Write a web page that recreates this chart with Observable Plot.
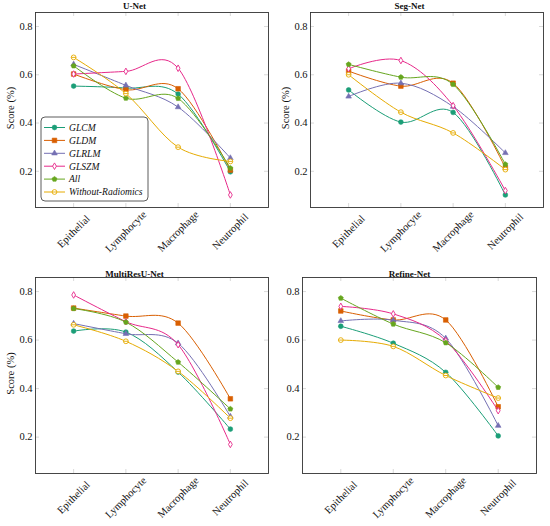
<!DOCTYPE html>
<html>
<head>
<meta charset="utf-8">
<script src="https://cdn.jsdelivr.net/npm/d3@7"></script>
<script src="https://cdn.jsdelivr.net/npm/@observablehq/plot@0.6"></script>
<style>
  body { margin: 0; background: #fff; }
  #wrap { position: relative; width: 550px; height: 526px; overflow: hidden; }
  #wrap > svg { position: absolute; }
</style>
</head>
<body>
<div id="wrap"></div>
<script>
// ---------- data ----------
const categories = ["Epithelial", "Lymphocyte", "Macrophage", "Neutrophil"];
const seriesNames = ["GLCM", "GLDM", "GLRLM", "GLSZM", "All", "Without-Radiomics"];
const seriesColors = ["#1b9e77", "#d95f02", "#7570b3", "#e7298a", "#66a61e", "#e6ab02"];
const yTicks = [0.2, 0.4, 0.6, 0.8];
const panelTitles = ["U-Net", "Seg-Net", "MultiResU-Net", "Refine-Net"];
const yAxisLabel = "Score (%)";

// rows follow seriesNames, columns follow categories
const uNetScores = [
  [0.553, 0.545, 0.520, 0.198],
  [0.603, 0.538, 0.542, 0.205],
  [0.643, 0.556, 0.466, 0.255],
  [0.603, 0.614, 0.627, 0.102],
  [0.637, 0.503, 0.502, 0.213],
  [0.672, 0.522, 0.300, 0.241]
];
const segNetScores = [
  [0.537, 0.404, 0.444, 0.102],
  [0.615, 0.553, 0.565, 0.215],
  [0.510, 0.565, 0.468, 0.276],
  [0.625, 0.659, 0.472, 0.120],
  [0.643, 0.590, 0.560, 0.229],
  [0.600, 0.445, 0.359, 0.207]
];
const multiResScores = [
  [0.637, 0.633, 0.468, 0.233],
  [0.732, 0.699, 0.670, 0.358],
  [0.668, 0.626, 0.587, 0.285],
  [0.786, 0.676, 0.581, 0.170],
  [0.730, 0.674, 0.509, 0.316],
  [0.663, 0.595, 0.471, 0.278]
];
const refineNetScores = [
  [0.657, 0.587, 0.467, 0.205],
  [0.720, 0.683, 0.683, 0.325],
  [0.679, 0.682, 0.607, 0.247],
  [0.739, 0.708, 0.598, 0.309],
  [0.773, 0.666, 0.589, 0.405],
  [0.600, 0.574, 0.454, 0.361]
];

// ---------- marker shapes ----------
const pentagon = {
  draw(ctx, size) {
    const R = Math.sqrt(size / (2.5 * Math.sin(2 * Math.PI / 5)));
    for (let k = 0; k < 5; k++) {
      const a = -Math.PI / 2 + k * 2 * Math.PI / 5;
      const px = R * Math.cos(a), py = R * Math.sin(a);
      if (k === 0) ctx.moveTo(px, py); else ctx.lineTo(px, py);
    }
    ctx.closePath();
  }
};
const circleBar = {
  draw(ctx, size) {
    const r = Math.sqrt(size / Math.PI);
    ctx.moveTo(r, 0);
    ctx.arc(0, 0, r, 0, 2 * Math.PI);
    ctx.moveTo(-r, 0);
    ctx.lineTo(r, 0);
  }
};
const markerStyles = [
  { symbol: d3.symbolCircle, open: false, r: 2.4 },
  { symbol: d3.symbolSquare, open: false, r: 2.6 },
  { symbol: d3.symbolTriangle, open: false, r: 2.1 },
  { symbol: d3.symbolDiamond, open: true, r: 2.0 },
  { symbol: pentagon, open: false, r: 2.3 },
  { symbol: circleBar, open: true, r: 2.4 }
];

const FONT = "'Liberation Serif', 'DejaVu Serif', serif";
const xDom = [-0.73, 3.73];
const yDom = [0.05, 0.858];
const idx = categories.map((_, i) => i);

const panels = [
  { title: panelTitles[0], scores: uNetScores, left: 0, top: 0, mL: 35, mR: 7, mT: 12, mB: 56, titleY: 5.5, ylab: true },
  { title: panelTitles[1], scores: segNetScores, left: 275, top: 0, mL: 35, mR: 7, mT: 12, mB: 56, titleY: 5.5, ylab: true },
  { title: panelTitles[2], scores: multiResScores, left: 0, top: 263, mL: 35, mR: 7, mT: 14, mB: 53, titleY: 10.5, ylab: true },
  { title: panelTitles[3], scores: refineNetScores, left: 275, top: 263, mL: 27, mR: 14, mT: 14, mB: 53, titleY: 10.5, ylab: false }
];

function makePanel(cfg) {
  const W = 275, H = 263;
  const pxPerX = (W - cfg.mL - cfg.mR) / (xDom[1] - xDom[0]);
  const pxPerY = (H - cfg.mT - cfg.mB) / (yDom[1] - yDom[0]);
  const tx = 4 / pxPerX, ty = 4 / pxPerY;
  const tickStyle = { stroke: "#c8c8c8", strokeWidth: 0.7 };
  const marks = [
    Plot.ruleY(yTicks, { x1: xDom[0], x2: xDom[0] + tx, ...tickStyle }),
    Plot.ruleY(yTicks, { x1: xDom[1] - tx, x2: xDom[1], ...tickStyle }),
    Plot.ruleX(idx, { y1: yDom[0], y2: yDom[0] + ty, ...tickStyle }),
    Plot.ruleX(idx, { y1: yDom[1] - ty, y2: yDom[1], ...tickStyle })
  ];
  cfg.scores.forEach((vals, k) => {
    const col = seriesColors[k];
    const ms = markerStyles[k];
    marks.push(Plot.line(idx, { x: i => i, y: i => vals[i], stroke: col, strokeWidth: 1, curve: "cardinal" }));
    marks.push(Plot.dot(idx, {
      x: i => i, y: i => vals[i], symbol: ms.symbol, r: ms.r,
      fill: ms.open ? "white" : col, stroke: col, strokeWidth: ms.open ? 0.9 : 0.6
    }));
  });
  marks.push(Plot.frame({ stroke: "#333", strokeWidth: 0.9 }));
  marks.push(Plot.text([cfg.title], {
    text: d => d, frameAnchor: "top-left", dx: 134 - cfg.mL, dy: cfg.titleY - cfg.mT,
    textAnchor: "middle", lineAnchor: "middle", fontWeight: "bold", fontSize: 9, fill: "#111"
  }));
  marks.push(Plot.text(idx, {
    x: i => i, text: i => categories[i], frameAnchor: "bottom", dy: 24, rotate: -45,
    textAnchor: "middle", lineAnchor: "middle", fontSize: 10.6, fill: "#111"
  }));
  if (cfg.ylab) {
    marks.push(Plot.text([yAxisLabel], {
      text: d => d, frameAnchor: "left", dx: -25, dy: -2, rotate: -90,
      textAnchor: "middle", lineAnchor: "middle", fontSize: 10.5, fill: "#111"
    }));
  }
  const svg = Plot.plot({
    width: W, height: H,
    marginLeft: cfg.mL, marginRight: cfg.mR, marginTop: cfg.mT, marginBottom: cfg.mB,
    x: { domain: xDom, axis: null },
    y: { domain: yDom, ticks: yTicks, tickSize: 0, tickPadding: 3, tickFormat: d => d.toFixed(1), label: null },
    style: { fontFamily: FONT, fontSize: "10.5px", background: "white", color: "#111" },
    marks
  });
  svg.style.left = cfg.left + "px";
  svg.style.top = cfg.top + "px";
  return svg;
}

const wrap = document.getElementById("wrap");
const svgs = panels.map(p => {
  const s = makePanel(p);
  wrap.appendChild(s);
  return s;
});

// ---------- legend (first panel) ----------
(function legend() {
  const g = d3.select(svgs[0]).append("g").attr("font-family", FONT).attr("text-anchor", "start");
  g.append("rect").attr("x", 41).attr("y", 117).attr("width", 107).attr("height", 84)
    .attr("rx", 4).attr("fill", "white").attr("stroke", "#333").attr("stroke-width", 0.8);
  seriesNames.forEach((name, k) => {
    const y = 127.5 + k * 12.9;
    const col = seriesColors[k];
    const ms = markerStyles[k];
    g.append("line").attr("x1", 44).attr("x2", 65).attr("y1", y).attr("y2", y)
      .attr("stroke", col).attr("stroke-width", 1);
    g.append("path").attr("transform", `translate(54.5,${y})`)
      .attr("d", d3.symbol(ms.symbol, ms.r * ms.r * Math.PI)())
      .attr("fill", ms.open ? "white" : col).attr("stroke", col)
      .attr("stroke-width", ms.open ? 0.9 : 0.6);
    g.append("text").attr("x", 69).attr("y", y).attr("dy", "0.35em")
      .attr("text-anchor", "start")
      .attr("font-size", 9.6).attr("font-style", "italic").attr("fill", "#111").text(name);
  });
})();
</script>
</body>
</html>
